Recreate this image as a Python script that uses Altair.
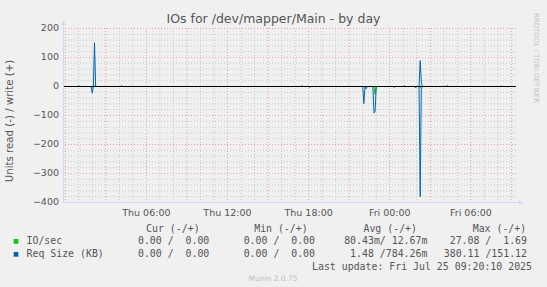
import altair as alt
import pandas as pd

# ---------------- data ----------------
TITLE = "IOs for /dev/mapper/Main - by day"
Y_TITLE = "Units read (-) / write (+)"
X_START = "2025-07-23T23:50:10"
X_END = "2025-07-25T09:20:10"
Y_DOMAIN = [-400, 200]

# Req Size (KB) write (+)
req_write_t = ["2025-07-23T23:50:10", "2025-07-24T00:55", "2025-07-24T01:00", "2025-07-24T01:05",
               "2025-07-24T02:05", "2025-07-24T02:10", "2025-07-24T02:15",
               "2025-07-24T04:05", "2025-07-24T04:10", "2025-07-24T04:15",
               "2025-07-24T17:25", "2025-07-24T17:30", "2025-07-24T17:35",
               "2025-07-25T01:00", "2025-07-25T01:05", "2025-07-25T01:10",
               "2025-07-25T02:10", "2025-07-25T02:15", "2025-07-25T02:20", "2025-07-25T02:25",
               "2025-07-25T04:10", "2025-07-25T04:15", "2025-07-25T04:20",
               "2025-07-25T08:10", "2025-07-25T08:15", "2025-07-25T08:20", "2025-07-25T09:20:10"]
req_write_v = [0, 0, 3, 0,
               0, 151, 0,
               0, 3, 0,
               0, 3, 0,
               0, 3, 0,
               0, 89, 15, 0,
               0, 3, 0,
               0, 2, 0, 0]

# Req Size (KB) read (-)
req_read_t = ["2025-07-23T23:50:10", "2025-07-24T01:55", "2025-07-24T02:00", "2025-07-24T02:05",
              "2025-07-24T18:00", "2025-07-24T18:05", "2025-07-24T18:10",
              "2025-07-24T22:00", "2025-07-24T22:05", "2025-07-24T22:10", "2025-07-24T22:15", "2025-07-24T22:20",
              "2025-07-24T22:45", "2025-07-24T22:50", "2025-07-24T22:55", "2025-07-24T23:00",
              "2025-07-25T00:15", "2025-07-25T00:20", "2025-07-25T00:25",
              "2025-07-25T01:50", "2025-07-25T01:55", "2025-07-25T02:00",
              "2025-07-25T02:10", "2025-07-25T02:15", "2025-07-25T02:20", "2025-07-25T02:25",
              "2025-07-25T09:20:10"]
req_read_v = [0, 0, -23, 0,
              0, -3, 0,
              0, -59, -2, -8, 0,
              0, -91, -86, 0,
              0, -3, 0,
              0, -5, 0,
              0, -380, -10, 0,
              0]

# IO/sec write (+)
io_write_t = ["2025-07-23T23:50:10", "2025-07-24T02:05", "2025-07-24T02:10", "2025-07-24T02:15",
              "2025-07-25T02:10", "2025-07-25T02:15", "2025-07-25T02:20", "2025-07-25T09:20:10"]
io_write_v = [0, 0, 1.7, 0, 0, 1.2, 0, 0]

# IO/sec read (-)
io_read_t = ["2025-07-23T23:50:10", "2025-07-24T01:55", "2025-07-24T02:00", "2025-07-24T02:05",
             "2025-07-24T22:50", "2025-07-24T22:55", "2025-07-24T23:00",
             "2025-07-25T02:10", "2025-07-25T02:15", "2025-07-25T02:20", "2025-07-25T09:20:10"]
io_read_v = [0, 0, -2, 0,
             0, -27, 0,
             0, -3, 0, 0]

# axis ticks / grid
x_label_times = ["2025-07-24T06:00", "2025-07-24T12:00", "2025-07-24T18:00",
                 "2025-07-25T00:00", "2025-07-25T06:00"]
x_grid_times = [t.strftime("%Y-%m-%dT%H:%M") for t in
                pd.date_range("2025-07-24 00:00", "2025-07-25 09:00", freq="h")]
y_label_values = [200, 100, 0, -100, -200, -300, -400]
y_grid_values = list(range(-400, 201, 20))

# legend table
legend_names = ["IO/sec", "Req Size (KB)"]
legend_colors = ["#00cc00", "#0066b3"]
legend_headers = ["Cur (-/+)", "Min (-/+)", "Avg (-/+)", "Max (-/+)"]
legend_cur = ["0.00 /  0.00", "0.00 /  0.00"]
legend_min = ["0.00 /  0.00", "0.00 /  0.00"]
legend_avg = ["80.43m/ 12.67m", "1.48 /784.26m"]
legend_max = ["27.08 /  1.69", "380.11 /151.12"]
LAST_UPDATE = "Last update: Fri Jul 25 09:20:10 2025"
FOOTER = "Munin 2.0.75"
WATERMARK = "RRDTOOL / TOBI OETIKER"

# ---------------- styling ----------------
BG = "#f0f0f0"
FONT_C = "#555555"
AXIS_C = "#cfd6f8"
GRID_C = "#c8c8c8"
MGRID_C = "#e8a0a0"
SANS = "DejaVu Sans"
MONO = "DejaVu Sans Mono"
L, T, W, H = 63, 28, 453, 174

frames = []
for key, ts, vs in [("io_read", io_read_t, io_read_v), ("io_write", io_write_t, io_write_v),
                    ("req_read", req_read_t, req_read_v), ("req_write", req_write_t, req_write_v)]:
    frames.append(pd.DataFrame({"time": ts, "value": vs, "series": key}))
df = pd.concat(frames, ignore_index=True)

x_scale = alt.Scale(domain=[X_START, X_END], nice=False)
y_scale = alt.Scale(domain=Y_DOMAIN, nice=False, zero=False)

# grid
xg = pd.DataFrame({"t": x_grid_times})
xg["major"] = [int(s[11:13]) % 3 == 0 for s in x_grid_times]
yg = pd.DataFrame({"v": y_grid_values})
yg["major"] = [v % 100 == 0 for v in y_grid_values]

grid_x_minor = alt.Chart(xg).transform_filter("!datum.major").mark_rule(
    color=GRID_C, strokeDash=[1, 2], strokeWidth=1).encode(x=alt.X("t:T", scale=x_scale, axis=None))
grid_y_minor = alt.Chart(yg).transform_filter("!datum.major").mark_rule(
    color=GRID_C, strokeDash=[1, 2], strokeWidth=1, yOffset=0.5).encode(y=alt.Y("v:Q", scale=y_scale, axis=None))
grid_x_major = alt.Chart(xg).transform_filter("datum.major").mark_rule(
    color=MGRID_C, strokeDash=[1, 2], strokeWidth=1).encode(x=alt.X("t:T", scale=x_scale, axis=None))
grid_y_major = alt.Chart(yg).transform_filter("datum.major").mark_rule(
    color=MGRID_C, strokeDash=[1, 2], strokeWidth=1, yOffset=0.5).encode(y=alt.Y("v:Q", scale=y_scale, axis=None))

# tick labels drawn through the scales
x_labels = alt.Chart(pd.DataFrame({"t": x_label_times})).mark_text(
    font=SANS, fontSize=9.5, color=FONT_C, baseline="middle", align="center").encode(
    x=alt.X("t:T", scale=x_scale, axis=None), y=alt.value(212.5 - T),
    text=alt.Text("t:T", format="%a %H:%M"))
y_labels = alt.Chart(pd.DataFrame({"v": y_label_values})).mark_text(
    font=SANS, fontSize=9.5, color=FONT_C, baseline="middle", align="right").encode(
    y=alt.Y("v:Q", scale=y_scale, axis=None), x=alt.value(59 - L),
    text=alt.Text("v:Q", format="d"))

base = alt.Chart(df)
io_lines = base.transform_filter(alt.FieldOneOfPredicate(field="series", oneOf=["io_read", "io_write"])).mark_line(
    color=legend_colors[0], strokeWidth=1, clip=True, yOffset=0.5).encode(
    x=alt.X("time:T", scale=x_scale, axis=None),
    y=alt.Y("value:Q", scale=y_scale, axis=None),
    detail="series:N")
req_lines = base.transform_filter(alt.FieldOneOfPredicate(field="series", oneOf=["req_read", "req_write"])).mark_line(
    color=legend_colors[1], strokeWidth=1, clip=True, yOffset=0.5).encode(
    x=alt.X("time:T", scale=x_scale, axis=None),
    y=alt.Y("value:Q", scale=y_scale, axis=None),
    detail="series:N")

zero = alt.Chart(pd.DataFrame({"v": [0]})).mark_rule(color="black", strokeWidth=1, yOffset=0.5).encode(
    y=alt.Y("v:Q", scale=y_scale, axis=None))

one = pd.DataFrame({"k": [0]})


def rule(x1, y1, x2, y2):
    return alt.Chart(one).mark_rule(color=AXIS_C, strokeWidth=1).encode(
        x=alt.value(x1 - L), x2=alt.value(x2 - L), y=alt.value(y1 - T), y2=alt.value(y2 - T))


def arrow(x, y, shape):
    return alt.Chart(one).mark_point(shape=shape, filled=True, color=AXIS_C, opacity=1, size=22).encode(
        x=alt.value(x - L), y=alt.value(y - T))


def txt(s, x, y, align="left", font=MONO, size=9.9, color=FONT_C, angle=0):
    if font == MONO:
        s = s.replace(" ", "\u00a0")
    return alt.Chart(one).mark_text(text=s, align=align, baseline="middle", font=font, fontSize=size,
                                    color=color, angle=angle).encode(x=alt.value(x - L), y=alt.value(y - T))


layers = [grid_x_minor, grid_y_minor, grid_x_major, grid_y_major,
          io_lines, req_lines, zero,
          rule(63.5, 21, 63.5, 202.5), rule(62, 202.5, 520, 202.5),
          arrow(63.5, 23, "triangle-up"), arrow(521, 202.5, "triangle-right"),
          x_labels, y_labels,
          txt(TITLE, 273.5, 19, align="center", font=SANS, size=12.5),
          txt(Y_TITLE, 10, 121, align="center", font=SANS, size=10.2, angle=270),
          txt(WATERMARK, 536, 58, align="center", font=SANS, size=7, color="#c4c4c4", angle=90)]

hdr_right = [199.6, 307.7, 417.0, 526.2]
val_right = [209.3, 315.0, 427.4, 527.0]
for h, xr in zip(legend_headers, hdr_right):
    layers.append(txt(h, xr, 229.2, align="right"))
row_y = [241.4, 254.3]
for i, name in enumerate(legend_names):
    y = row_y[i]
    layers.append(alt.Chart(one).mark_square(color=legend_colors[i], opacity=1, size=22).encode(
        x=alt.value(16 - L), y=alt.value(y - T)))
    layers.append(txt(name, 26.5, y))
    for vals, xr in zip([legend_cur, legend_min, legend_avg, legend_max], val_right):
        layers.append(txt(vals[i], xr, y, align="right"))
layers.append(txt(LAST_UPDATE, 532, 267.2, align="right"))
layers.append(txt(FOOTER, 273, 279.4, align="center", font=SANS, size=7.5, color="#bdbdbd"))

chart = alt.layer(*layers).properties(
    width=W, height=H,
    padding={"left": L, "top": T, "right": 547 - L - W, "bottom": 287 - T - H},
    autosize=alt.AutoSizeParams(type="none"),
    background=BG,
).configure_view(stroke=None)

chart.save("out.html", embed_options={"renderer": "svg", "actions": False})
